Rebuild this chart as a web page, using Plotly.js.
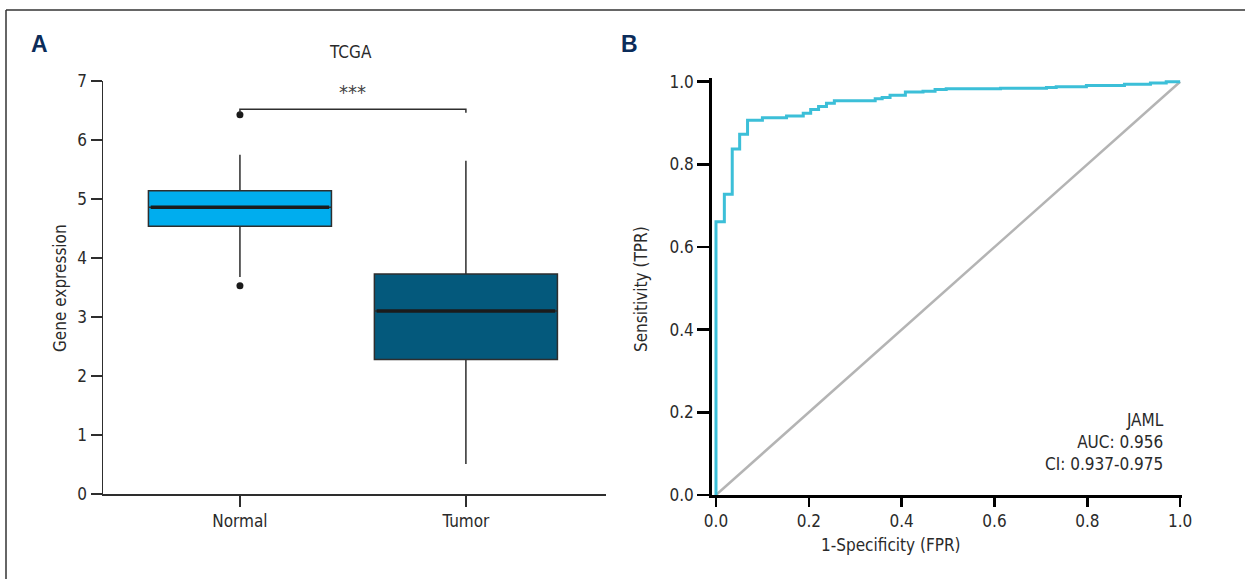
<!DOCTYPE html>
<html>
<head>
<meta charset="utf-8">
<script src="https://cdn.plot.ly/plotly-3.0.1.min.js"></script>
<style>html,body{margin:0;padding:0;background:#fff;}#chart{width:1245px;height:579px;}</style>
</head>
<body>
<div id="chart"></div>
<script>
// ---- Panel A data (TCGA box plot) ----
const categories = ['Normal', 'Tumor'];
const q1Vals = [4.54, 2.28];
const medianVals = [4.86, 3.10];
const q3Vals = [5.14, 3.73];
const lowerWhisker = [3.68, 0.51];
const upperWhisker = [5.75, 5.65];
const outlierGroup = [0, 0];
const outlierVals = [6.43, 3.53];
const boxColors = ['#00adee', '#04597c'];
const yTicksA = [0, 1, 2, 3, 4, 5, 6, 7];
const sigLabel = '***';
const sigLevel = 6.52;
const sigLegEnd = 6.46;

// ---- Panel B data (ROC curve) ----
const fpr = [0, 0, 0.018, 0.035, 0.051, 0.068, 0.100, 0.152, 0.188, 0.204, 0.221, 0.238, 0.255, 0.343, 0.358, 0.375, 0.408, 0.446, 0.472, 0.496, 0.613, 0.712, 0.733, 0.798, 0.880, 0.936, 0.970, 1.0];
const tpr = [0, 0.661, 0.728, 0.837, 0.873, 0.907, 0.913, 0.917, 0.924, 0.933, 0.940, 0.948, 0.954, 0.959, 0.962, 0.967, 0.975, 0.977, 0.981, 0.983, 0.984, 0.986, 0.988, 0.991, 0.994, 0.997, 1.0, 1.0];
const refLine = [0, 1];
const rocTicks = [0, 0.2, 0.4, 0.6, 0.8, 1.0];
const geneName = 'JAML';
const aucValue = '0.956';
const ciText = '0.937-0.975';

const FONT = 'Liberation Sans Narrow, DejaVu Sans Condensed, Arial Narrow, sans-serif';
const W = 1245, H = 579;
const px = v => v / W;
const py = v => 1 - v / H;

const boxWidth = 0.81;
const traces = [];
categories.forEach((c, i) => {
  traces.push({
    type: 'box', xaxis: 'x', yaxis: 'y', name: c,
    x: [i], q1: [q1Vals[i]], median: [medianVals[i]], q3: [q3Vals[i]],
    lowerfence: [lowerWhisker[i]], upperfence: [upperWhisker[i]],
    width: boxWidth, whiskerwidth: 0, boxpoints: false,
    fillcolor: boxColors[i], line: {color: '#2e2e2e', width: 1.5},
    hoverinfo: 'skip', showlegend: false
  });
  traces.push({
    type: 'scatter', mode: 'lines', xaxis: 'x', yaxis: 'y',
    x: [i - boxWidth / 2 + 0.01, i + boxWidth / 2 - 0.01], y: [medianVals[i], medianVals[i]],
    line: {color: '#1b1b1b', width: 3.5}, hoverinfo: 'skip', showlegend: false
  });
});
traces.push({
  type: 'scatter', mode: 'markers', xaxis: 'x', yaxis: 'y',
  x: outlierGroup, y: outlierVals,
  marker: {color: '#1a1a1a', size: 7}, hoverinfo: 'skip', showlegend: false
});
traces.push({
  type: 'scatter', mode: 'lines', xaxis: 'x', yaxis: 'y',
  x: [0, 0, 1, 1], y: [sigLegEnd, sigLevel, sigLevel, sigLegEnd],
  line: {color: '#2e2e2e', width: 1.5}, hoverinfo: 'skip', showlegend: false
});
traces.push({
  type: 'scatter', mode: 'lines', xaxis: 'x2', yaxis: 'y2',
  x: refLine, y: refLine,
  line: {color: '#b4b4b4', width: 2.5}, hoverinfo: 'skip', showlegend: false
});
traces.push({
  type: 'scatter', mode: 'lines', xaxis: 'x2', yaxis: 'y2',
  x: fpr, y: tpr, line: {color: '#3cbfd8', width: 3, shape: 'hv'},
  hoverinfo: 'skip', showlegend: false
});

const tickFont = {family: FONT, size: 17, color: '#2a2a2a'};
const layout = {
  width: W, height: H,
  margin: {l: 0, r: 0, t: 0, b: 0},
  paper_bgcolor: '#ffffff', plot_bgcolor: 'rgba(0,0,0,0)',
  font: {family: FONT, color: '#2a2a2a'},
  xaxis: {
    domain: [px(103), px(606)], range: [-0.606, 1.62],
    tickvals: [0, 1], ticktext: categories, ticks: 'outside', ticklen: 11,
    tickwidth: 1.5, tickcolor: '#2e2e2e', showline: true, linecolor: '#2e2e2e',
    linewidth: 1.5, showgrid: false, zeroline: false, tickfont: tickFont, fixedrange: true,
    anchor: 'y'
  },
  yaxis: {
    domain: [py(494), py(81)], range: [0, 7],
    tickvals: yTicksA, ticks: 'outside', ticklen: 11, tickwidth: 1.5,
    tickcolor: '#2e2e2e', showline: true, linecolor: '#2e2e2e', linewidth: 1.5,
    showgrid: false, zeroline: false, tickfont: tickFont, fixedrange: true,
    anchor: 'x'
  },
  xaxis2: {
    domain: [px(712), px(1182)], range: [-0.0086, 1.004],
    tickvals: rocTicks, ticktext: rocTicks.map(v => v.toFixed(1)),
    ticks: 'outside', ticklen: 9, tickwidth: 2.5, tickcolor: '#000',
    showline: true, linecolor: '#000', linewidth: 2.8, showgrid: false, zeroline: false,
    tickfont: tickFont, fixedrange: true, anchor: 'y2'
  },
  yaxis2: {
    domain: [py(495), py(78)], range: [0, 1.009],
    tickvals: rocTicks, ticktext: rocTicks.map(v => v.toFixed(1)),
    ticks: 'outside', ticklen: 12, tickwidth: 2.5, tickcolor: '#000',
    showline: true, linecolor: '#000', linewidth: 2.8, showgrid: false, zeroline: false,
    tickfont: tickFont, fixedrange: true, anchor: 'x2'
  },
  shapes: [
    {type: 'line', xref: 'paper', yref: 'paper', x0: px(6), x1: px(6), y0: 0, y1: py(10), line: {color: '#333', width: 1.5}},
    {type: 'line', xref: 'paper', yref: 'paper', x0: px(6), x1: 1, y0: py(10), y1: py(10), line: {color: '#333', width: 1.5}}
  ],
  annotations: [
    {text: '<b>A</b>', xref: 'paper', yref: 'paper', x: px(40), y: py(44), xanchor: 'center', yanchor: 'middle', showarrow: false,
     font: {family: 'Liberation Sans, Arial, sans-serif', size: 23, color: '#0b2c5a'}},
    {text: '<b>B</b>', xref: 'paper', yref: 'paper', x: px(629), y: py(44), xanchor: 'center', yanchor: 'middle', showarrow: false,
     font: {family: 'Liberation Sans, Arial, sans-serif', size: 23, color: '#0b2c5a'}},
    {text: 'TCGA', xref: 'paper', yref: 'paper', x: px(350), y: py(52), xanchor: 'center', yanchor: 'middle', showarrow: false,
     font: {family: FONT, size: 17, color: '#2a2a2a'}},
    {text: sigLabel, xref: 'x', yref: 'y', x: 0.5, y: 6.82, xanchor: 'center', yanchor: 'middle', showarrow: false,
     font: {family: FONT, size: 20, color: '#444'}},
    {text: 'Gene expression', xref: 'paper', yref: 'paper', x: px(60), y: py(288), xanchor: 'center', yanchor: 'middle', textangle: -90, showarrow: false,
     font: {family: FONT, size: 17, color: '#2a2a2a'}},
    {text: 'Sensitivity (TPR)', xref: 'paper', yref: 'paper', x: px(641), y: py(289), xanchor: 'center', yanchor: 'middle', textangle: -90, showarrow: false,
     font: {family: FONT, size: 17, color: '#2a2a2a'}},
    {text: '1-Specificity (FPR)', xref: 'paper', yref: 'paper', x: px(891), y: py(545), xanchor: 'center', yanchor: 'middle', showarrow: false,
     font: {family: FONT, size: 17, color: '#2a2a2a'}},
    {text: geneName + '<br>AUC: ' + aucValue + '<br>CI: ' + ciText, xref: 'x2', yref: 'y2', x: 0.97, y: 0.21, xanchor: 'right', yanchor: 'top', align: 'right', showarrow: false,
     font: {family: FONT, size: 17, color: '#2a2a2a'}}
  ]
};

Plotly.newPlot('chart', traces, layout, {displayModeBar: false, staticPlot: true});
</script>
</body>
</html>
